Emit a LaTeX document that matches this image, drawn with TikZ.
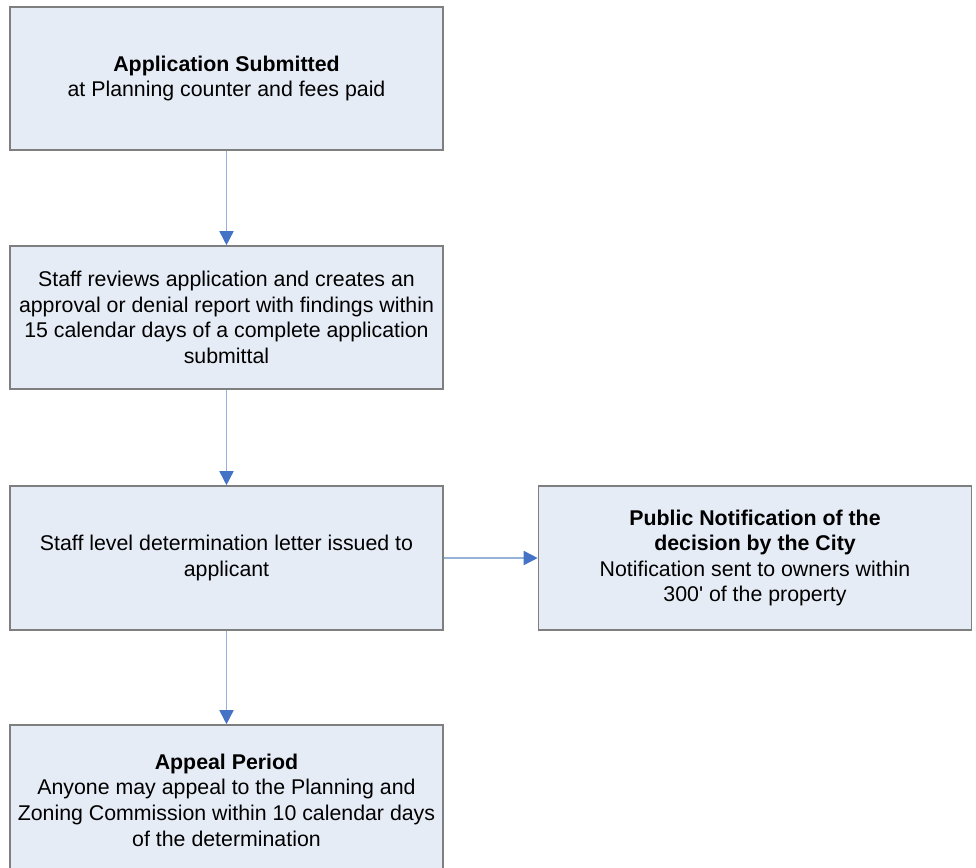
\documentclass[tikz,border=0pt]{standalone}
\usepackage{fontspec}
\setmainfont{Liberation Sans}[Ligatures=TeXOff]
\usetikzlibrary{arrows.meta}
\definecolor{boxfill}{HTML}{E6ECF6}
\definecolor{boxdraw}{HTML}{7F7F7F}
\definecolor{lineblue}{HTML}{95B3D7}
\definecolor{tipblue}{HTML}{4472C4}
\begin{document}
\begin{tikzpicture}[x=1pt,y=-1pt,
  flowbox/.style={draw=boxdraw, fill=boxfill, line width=1.6pt, rectangle,
    minimum width=433pt, minimum height=143pt, inner sep=0pt,
    align=center,
    font=\fontsize{21.33}{25.6}\selectfont},
  conn/.style={draw=lineblue, line width=1.6pt,
    -{Triangle[length=14pt,width=14pt,color=tipblue,fill=tipblue]}}]
\useasboundingbox (0,0) rectangle (976,867);
\clip (0,0) rectangle (976,867);
\node[flowbox] (submit) at (226.5,78.5) {\textbf{Application Submitted}\\at Planning counter and fees paid};
\node[flowbox] (review) at (226.5,317.5) {Staff reviews application and creates an\\approval or denial report with findings within\\15 calendar days of a complete application\\submittal};
\node[flowbox, minimum height=144pt] (letter) at (226.5,558) {Staff level determination letter issued to\\applicant};
\node[flowbox, minimum height=144pt] (public) at (755,558) {\textbf{Public Notification of the}\\\textbf{decision by the City}\\Notification sent to owners within\\300' of the property};
\node[flowbox, minimum height=150pt] (appeal) at (226.5,800) {\textbf{Appeal Period}\\Anyone may appeal to the Planning and\\Zoning Commission within 10 calendar days\\of the determination};
\draw[conn] (submit.south) -- (review.north);
\draw[conn] (review.south) -- (letter.north);
\draw[conn] (letter.south) -- (appeal.north);
\draw[conn] (letter.east) -- (public.west);
\end{tikzpicture}
\end{document}
